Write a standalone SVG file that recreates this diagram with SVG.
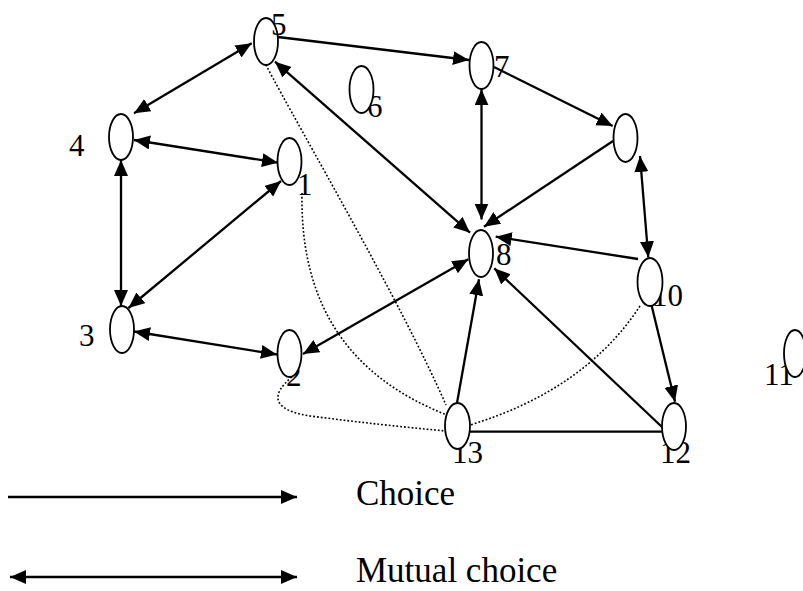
<svg xmlns="http://www.w3.org/2000/svg" width="803" height="591" viewBox="0 0 803 591">
<style>
.e{fill:#fff;stroke:#000;stroke-width:1.8}
.l{font-family:"Liberation Serif","Times New Roman",serif;font-size:31px;fill:#000}
.lg{font-family:"Liberation Serif","Times New Roman",serif;font-size:35px;fill:#000}
.a{stroke:#000;stroke-width:2.3;fill:none;marker-end:url(#ah)}
.d{stroke:#000;stroke-width:2.3;fill:none;marker-start:url(#ah);marker-end:url(#ah)}
.p{stroke:#000;stroke-width:2.3;fill:none}
.dot{stroke:#000;stroke-width:1.6;fill:none;stroke-dasharray:1.8 2}
</style>
<defs>
<marker id="ah" markerUnits="userSpaceOnUse" markerWidth="17" markerHeight="15" refX="16" refY="7" orient="auto-start-reverse" viewBox="0 0 17 15">
<path d="M0,0 L16,7 L0,14 z" fill="#000"/>
</marker>
</defs>
<rect width="803" height="591" fill="#fff"/>
<g id="connectors">
<line class="d" x1="251.7" y1="43.3" x2="134" y2="113.3"/>
<line class="d" x1="134" y1="140" x2="278" y2="162.7"/>
<line class="d" x1="121" y1="160" x2="121" y2="306"/>
<line class="d" x1="281" y1="181" x2="128.5" y2="308"/>
<line class="d" x1="134" y1="331.5" x2="277" y2="354.5"/>
<line class="d" x1="275" y1="61.7" x2="470" y2="232.7"/>
<line class="d" x1="481.5" y1="89.3" x2="481.5" y2="219.5"/>
<line class="d" x1="640" y1="156" x2="648.3" y2="257.3"/>
<line class="d" x1="468.3" y1="259.3" x2="303" y2="354"/>
<line class="a" x1="278" y1="37" x2="469" y2="60"/>
<line class="a" x1="494" y1="67" x2="612.7" y2="126"/>
<line class="a" x1="613" y1="141" x2="484" y2="226.7"/>
<line class="a" x1="638" y1="259" x2="495.7" y2="236.7"/>
<line class="a" x1="651.7" y1="306" x2="675" y2="401.7"/>
<line class="a" x1="457" y1="403" x2="479" y2="279.3"/>
<line class="a" x1="662" y1="427" x2="494.3" y2="268.3"/>
<line class="p" x1="470" y1="431.7" x2="662" y2="431.7"/>
<path class="dot" d="M302,193 C300,300 345,375 447,415"/>
<path class="dot" d="M266,65 C300,130 400,300 446,405"/>
<path class="dot" d="M292,377 C270,395 272,410 310,416 Q380,425 446,431"/>
<path class="dot" d="M640,306 Q585,390 470,425"/>
</g>
<g id="node-1"><text class="l" x="297" y="195">1</text><ellipse class="e" cx="289.5" cy="161.5" rx="12" ry="23.5"/></g>
<g id="node-2"><text class="l" x="286" y="386">2</text><ellipse class="e" cx="289.5" cy="353.5" rx="12" ry="23.5"/></g>
<g id="node-3"><text class="l" x="79" y="346">3</text><ellipse class="e" cx="122" cy="329.5" rx="12" ry="23.5"/></g>
<g id="node-4"><text class="l" x="69" y="156">4</text><ellipse class="e" cx="121" cy="137" rx="12" ry="23"/></g>
<g id="node-5"><ellipse class="e" cx="266" cy="41.5" rx="12" ry="23.5"/><text class="l" x="271" y="35">5</text></g>
<g id="node-6"><text class="l" x="367" y="117">6</text><ellipse class="e" cx="361.5" cy="89.5" rx="12" ry="23.5"/></g>
<g id="node-7"><text class="l" x="494" y="77">7</text><ellipse class="e" cx="481.5" cy="65.5" rx="12" ry="23.5"/></g>
<g id="node-8"><text class="l" x="496" y="265">8</text><ellipse class="e" cx="481" cy="253.5" rx="12" ry="23.5"/></g>
<g id="node-9"><ellipse class="e" cx="625.5" cy="138" rx="12" ry="24"/></g>
<g id="node-10"><text class="l" x="652" y="306">10</text><ellipse class="e" cx="650" cy="282" rx="12.5" ry="24"/></g>
<g id="node-11"><text class="l" x="764" y="385">11</text><ellipse class="e" cx="795" cy="353.5" rx="11" ry="23.5"/></g>
<g id="node-12"><text class="l" x="660" y="463">12</text><ellipse class="e" cx="674" cy="426.5" rx="12" ry="23.5"/></g>
<g id="node-13"><text class="l" x="452" y="463">13</text><ellipse class="e" cx="457.5" cy="426" rx="12.5" ry="23"/></g>
<g id="legend">
<line class="a" x1="8" y1="497" x2="297" y2="497"/>
<line class="d" x1="10" y1="577" x2="297" y2="577"/>
<text class="lg" x="356" y="505">Choice</text>
<text class="lg" x="356" y="582">Mutual choice</text>
</g>
</svg>
